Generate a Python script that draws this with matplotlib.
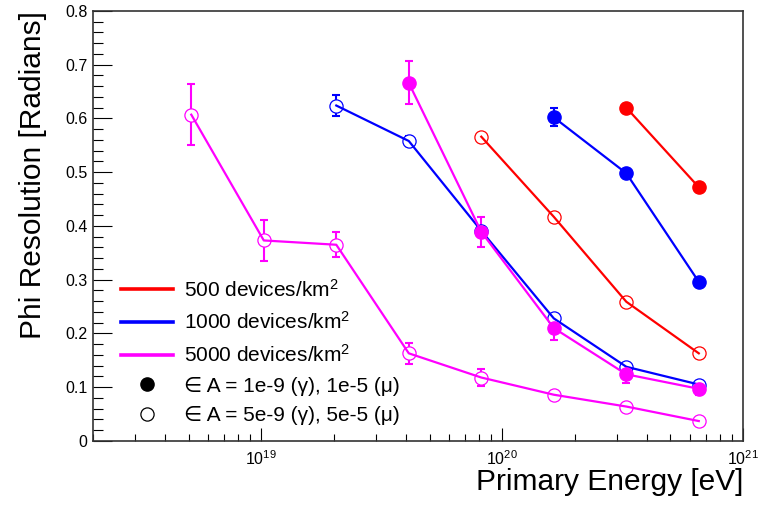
import numpy as np
import matplotlib
matplotlib.use("Agg")
import matplotlib.pyplot as plt
from matplotlib.lines import Line2D
from matplotlib.ticker import LogLocator, LogFormatterMathtext, MultipleLocator, NullFormatter

plt.rcParams["font.family"] = ["Liberation Sans", "DejaVu Sans"]
plt.rcParams["mathtext.fontset"] = "custom"
plt.rcParams["mathtext.rm"] = "Liberation Sans"
plt.rcParams["mathtext.it"] = "Liberation Sans:italic"

# Primary energies (eV)
# 500 devices/km2
e_500_a = [3.2768e20, 6.5536e20]
r_500_a = [0.620, 0.472]
s_500_a = [0.006, 0.006]
e_500_b = [8.192e19, 1.6384e20, 3.2768e20, 6.5536e20]
r_500_b = [0.566, 0.417, 0.259, 0.163]
s_500_b = [0.005, 0.005, 0.005, 0.005]

# 1000 devices/km2
e_1000_a = [1.6384e20, 3.2768e20, 6.5536e20]
r_1000_a = [0.602, 0.498, 0.296]
s_1000_a = [0.017, 0.006, 0.006]
e_1000_b = [2.048e19, 4.096e19, 8.192e19, 1.6384e20, 3.2768e20, 6.5536e20]
r_1000_b = [0.624, 0.558, 0.391, 0.228, 0.138, 0.105]
s_1000_b = [0.020, 0.010, 0.008, 0.006, 0.005, 0.004]

# 5000 devices/km2
e_5000_a = [4.096e19, 8.192e19, 1.6384e20, 3.2768e20, 6.5536e20]
r_5000_a = [0.666, 0.389, 0.210, 0.124, 0.097]
s_5000_a = [0.040, 0.028, 0.022, 0.017, 0.012]
e_5000_b = [5.12e18, 1.024e19, 2.048e19, 4.096e19, 8.192e19, 1.6384e20, 3.2768e20, 6.5536e20]
r_5000_b = [0.607, 0.373, 0.365, 0.163, 0.118, 0.086, 0.064, 0.037]
s_5000_b = [0.057, 0.038, 0.023, 0.020, 0.015, 0.006, 0.005, 0.004]

series = [
    ("red", e_500_a, r_500_a, s_500_a, True),
    ("red", e_500_b, r_500_b, s_500_b, False),
    ("blue", e_1000_a, r_1000_a, s_1000_a, True),
    ("blue", e_1000_b, r_1000_b, s_1000_b, False),
    ("magenta", e_5000_a, r_5000_a, s_5000_a, True),
    ("magenta", e_5000_b, r_5000_b, s_5000_b, False),
]

fig = plt.figure(figsize=(7.78, 5.08), dpi=100)
ax = fig.add_axes([0.1195, 0.132, 0.8355, 0.8465])

for color, e, r, s, filled in series:
    ax.errorbar(e, r, yerr=s, fmt="none", ecolor=color, elinewidth=1.5,
                capsize=3, capthick=1.5, zorder=2)
    ax.plot(e, r, color=color, lw=1.6, zorder=4)
    if filled:
        ax.plot(e, r, "o", color=color, ms=9.5, mec=color, zorder=5)
    else:
        ax.plot(e, r, "o", mfc="white", mec=color, ms=9.5, mew=0.9, zorder=3)

ax.set_xscale("log")
ax.set_xlim(2e18, 1e21)
ax.set_ylim(0, 0.8)

ax.xaxis.set_major_locator(LogLocator(base=10))
ax.xaxis.set_major_formatter(LogFormatterMathtext())
ax.xaxis.set_minor_locator(LogLocator(base=10, subs=np.arange(2, 10)))
ax.xaxis.set_minor_formatter(NullFormatter())
ax.yaxis.set_major_locator(MultipleLocator(0.1))
ax.yaxis.set_minor_locator(MultipleLocator(0.02))
ax.yaxis.set_major_formatter(plt.FuncFormatter(lambda v, p: "%g" % round(v, 2)))

ax.tick_params(axis="x", which="major", direction="in", length=9.5, width=0.8,
               labelsize=11.5, pad=6)
ax.tick_params(axis="x", which="minor", direction="in", length=4.7, width=0.8)
ax.tick_params(axis="y", which="major", direction="in", length=14, width=0.8,
               labelsize=11.5, pad=4)
ax.tick_params(axis="y", which="minor", direction="in", length=7, width=0.8)
for sp in ax.spines.values():
    sp.set_linewidth(1.2)
    sp.set_color("#333333")

ax.set_xlabel("Primary Energy [eV]", fontsize=21.5, loc="right")
ax.xaxis.set_label_coords(1.0, -0.063)
ax.xaxis.label.set_va("top")
ax.set_ylabel("Phi Resolution [Radians]", fontsize=21.5, loc="top")
ax.yaxis.set_label_coords(-0.071, 1.0)

handles = [
    Line2D([], [], color="red", lw=2.6),
    Line2D([], [], color="blue", lw=2.6),
    Line2D([], [], color="magenta", lw=2.6),
    Line2D([], [], ls="none", marker="o", color="black", ms=9.5),
    Line2D([], [], ls="none", marker="o", mfc="white", mec="black", ms=9.5, mew=0.9),
]
labels = [
    "500 devices/km$^2$",
    "1000 devices/km$^2$",
    "5000 devices/km$^2$",
    "\u2208 A = 1e-9 (\u03b3), 1e-5 (\u03bc)",
    "\u2208 A = 5e-9 (\u03b3), 5e-5 (\u03bc)",
]
ax.legend(handles, labels, loc="lower left", bbox_to_anchor=(0.043, 0.036),
          frameon=False, fontsize=15, handlelength=2.5, handletextpad=0.55,
          labelspacing=0.52, borderpad=0, borderaxespad=0)

fig.savefig("out.png", dpi=100)
